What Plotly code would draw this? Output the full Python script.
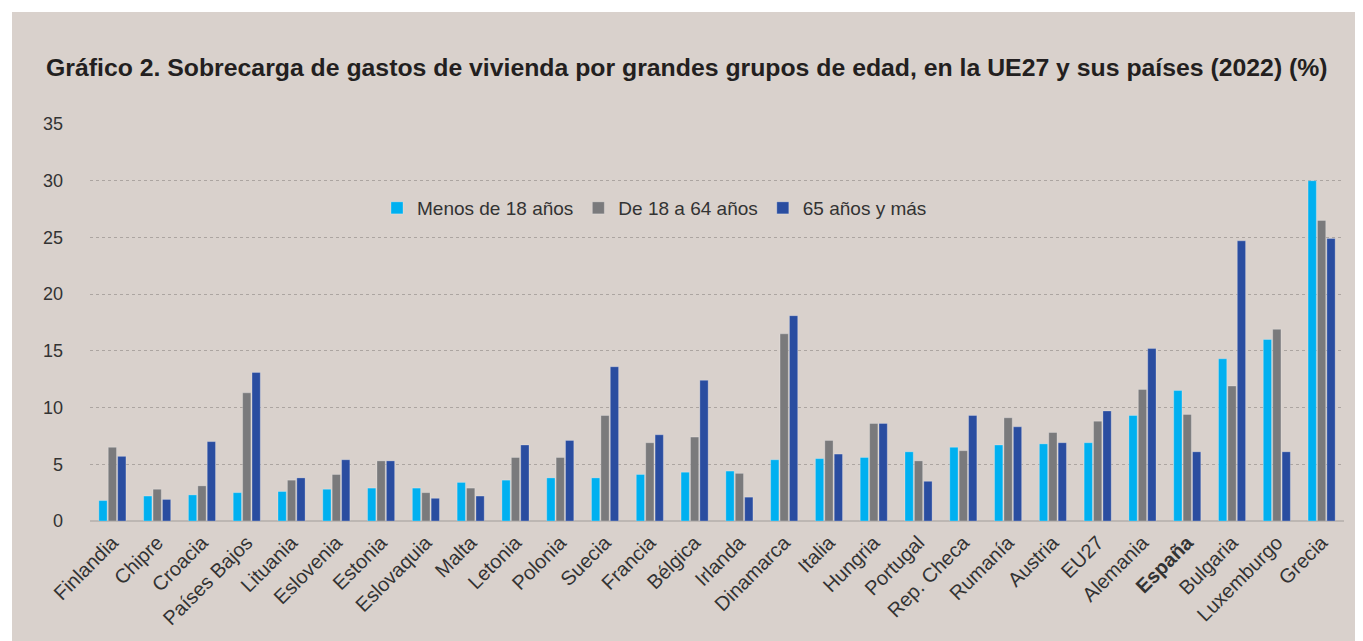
import plotly.graph_objects as go

countries = ["Finlandia", "Chipre", "Croacia", "Países Bajos", "Lituania", "Eslovenia", "Estonia",
             "Eslovaquia", "Malta", "Letonia", "Polonia", "Suecia", "Francia", "Bélgica", "Irlanda",
             "Dinamarca", "Italia", "Hungria", "Portugal", "Rep. Checa", "Rumanía", "Austria", "EU27",
             "Alemania", "España", "Bulgaria", "Luxemburgo", "Grecia"]
menos_18 = [1.8, 2.2, 2.3, 2.5, 2.6, 2.8, 2.9, 2.9, 3.4, 3.6, 3.8, 3.8, 4.1, 4.3, 4.4,
            5.4, 5.5, 5.6, 6.1, 6.5, 6.7, 6.8, 6.9, 9.3, 11.5, 14.3, 16.0, 30.0]
de_18_64 = [6.5, 2.8, 3.1, 11.3, 3.6, 4.1, 5.3, 2.5, 2.9, 5.6, 5.6, 9.3, 6.9, 7.4, 4.2,
            16.5, 7.1, 8.6, 5.3, 6.2, 9.1, 7.8, 8.8, 11.6, 9.4, 11.9, 16.9, 26.5]
mas_65 = [5.7, 1.9, 7.0, 13.1, 3.8, 5.4, 5.3, 2.0, 2.2, 6.7, 7.1, 13.6, 7.6, 12.4, 2.1,
          18.1, 5.9, 8.6, 3.5, 9.3, 8.3, 6.9, 9.7, 15.2, 6.1, 24.7, 6.1, 24.9]
y_ticks = [0, 5, 10, 15, 20, 25, 30, 35]

tick_text = [f"<b>{c}</b>" if c == "España" else c for c in countries]

BG = "#d9d1cc"
FONT = "Liberation Sans, Arial, sans-serif"

series = [
    ("Menos de 18 años", menos_18, "#00b0f0"),
    ("De 18 a 64 años", de_18_64, "#7a7a7c"),
    ("65 años y más", mas_65, "#2a4da0"),
]

fig = go.Figure()
for name, vals, color in series:
    fig.add_trace(go.Bar(
        x=countries, y=vals, name=name,
        marker=dict(color=color, line=dict(color="rgba(255,255,255,0.25)", width=1)),
    ))

W, H = 1355, 633
L, R, T, B = 82, 19, 116, 120
pw, ph = W - L - R, H - T - B

fig.update_layout(
    width=W, height=H,
    margin=dict(l=L, r=R, t=T, b=B),
    paper_bgcolor="white",
    plot_bgcolor=BG,
    barmode="group",
    bargap=0.37,
    bargroupgap=0.12,
    font=dict(family=FONT, size=18, color="#333333"),
    title=dict(
        text="<b>Gráfico 2. Sobrecarga de gastos de vivienda por grandes grupos de edad, en la UE27 y sus países (2022) (%)</b>",
        font=dict(family=FONT, size=24.8, color="#231f20"),
        x=38 / W, xanchor="left", y=1 - 59 / H, yanchor="middle",
    ),
    legend=dict(
        orientation="h",
        x=(369 - L) / pw, xanchor="left",
        y=(H - B - 200) / ph, yanchor="middle",
        font=dict(size=19, color="#333333"),
        bgcolor="rgba(0,0,0,0)",
    ),
    shapes=[dict(
        type="rect", xref="paper", yref="paper", layer="below",
        x0=(4 - L) / pw, x1=(W + 10 - L) / pw,
        y0=-(B + 10) / ph, y1=(H - B - 4) / ph,
        fillcolor=BG, line=dict(width=0),
    )],
)

fig.update_xaxes(
    tickvals=countries, ticktext=tick_text, tickangle=-45,
    showgrid=False, showline=False, ticks="", ticklabelstandoff=5,
    tickfont=dict(size=20, color="#333333"),
)
fig.update_yaxes(
    range=[0, 35], tickvals=y_ticks,
    showgrid=True, gridcolor="#aca5a1", gridwidth=1, griddash="3px,3px",
    zeroline=True, zerolinecolor="#bdb7b3", zerolinewidth=2,
    showline=False, ticks="", ticklabelstandoff=26,
    tickfont=dict(size=18, color="#333333"),
)

fig.write_html("out.html")
